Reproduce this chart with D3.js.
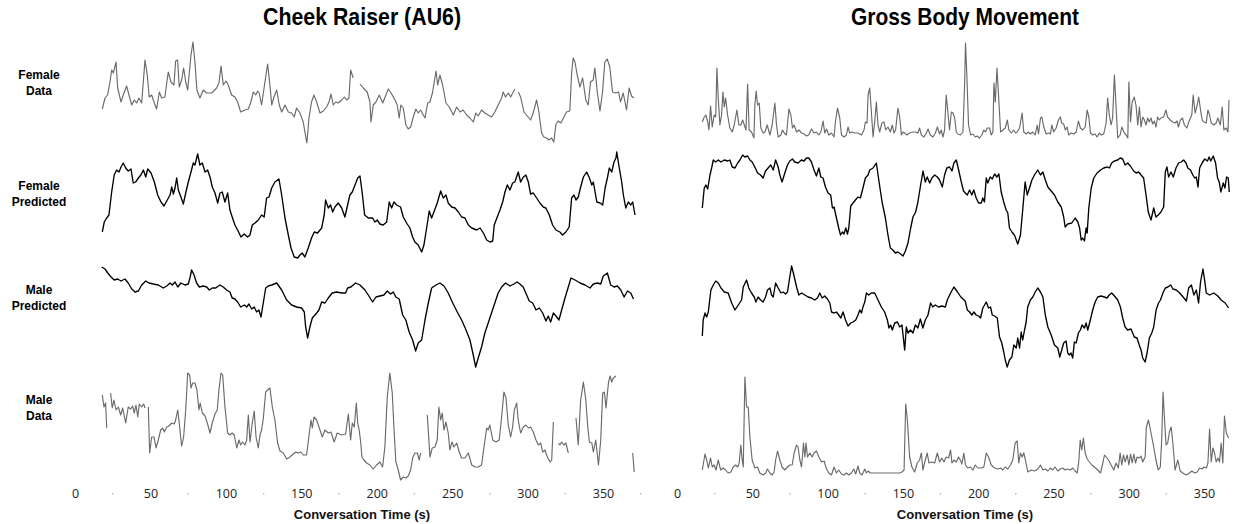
<!DOCTYPE html>
<html><head><meta charset="utf-8">
<script src="https://cdn.jsdelivr.net/npm/d3@7"></script>
<style>body{margin:0;background:#fff}</style>
</head><body><svg id="c" width="1233" height="524"></svg>
<script>
const panelTitles = ["Cheek Raiser (AU6)", "Gross Body Movement"];
const rowLabels = [["Female","Data"],["Female","Predicted"],["Male","Predicted"],["Male","Data"]];
const tickValues = [0,50,100,150,200,250,300,350];
const minorTicks = [25,75,125,175,225,275,325,375];
const xAxisTitle = "Conversation Time (s)";

// [time (s), normalized value]; null = missing
const au6FemaleData = [[18.1,39],[19.9,50],[21.6,53],[23.2,66],[24.3,78],[25.4,75],[27.2,86],[28.3,60],[30.5,46],[32,53],[34.2,62],[35.8,53],[37.6,43],[39.3,48],[40.9,45],[42.4,50],[44.2,45],[46.4,88],[47.9,73],[49.2,51],[50.8,53],[52.6,45],[54.1,39],[55.9,56],[57.4,50],[59.6,51],[61.8,76],[63.6,66],[65.6,63],[66.7,87],[68,88],[69.1,61],[70.7,68],[72,80],[73.4,66],[74.7,58],[76.9,93],[78.2,106],[79.5,86],[80.8,58],[82.8,50],[85,58],[87.3,55],[90.6,55],[93.9,60],[95.4,65],[96.8,82],[98.3,63],[100.1,67],[101.6,63],[103.8,53],[106,51],[107.8,46],[109.8,36],[112.7,38],[114.9,39],[116.6,46],[118.2,56],[119.8,53],[121.1,57],[122.1,55],[123.7,43],[125.9,66],[127.7,84],[129.2,63],[130.4,43],[131.9,51],[133.7,58],[135.4,43],[137,36],[139.2,43],[141.4,36],[143.6,35],[145.3,31],[146.9,40],[149.1,35],[151.3,26],[152.4,16],[153.7,5],[155.1,30],[156.8,46],[158.4,53],[160.2,46],[162.4,35],[164.6,37],[166.8,41],[168.4,46],[169.7,54],[171.2,43],[172.8,46],[174.5,45],[176.8,48],[178.5,51],[180.1,48],[181.6,50],[182.7,78],[184.4,70],[186.5,null],[188.9,64],[191.1,60],[193.7,56],[195.5,46],[196.2,26],[197.7,43],[199.5,46],[201.7,53],[204,45],[206.1,53],[207.7,59],[209.9,54],[212.1,48],[213.6,43],[214.9,30],[216,43],[217.6,40],[219.3,23],[220.9,19],[222.5,21],[224.2,31],[226,39],[227.5,35],[229.1,38],[230.9,33],[232,30],[233.8,45],[235.3,46],[237.1,56],[237.9,64],[239.3,77],[240.4,63],[241.9,73],[243.7,63],[245.9,45],[248.1,41],[250.8,33],[253,41],[255.2,36],[257.3,38],[259.6,33],[261.8,30],[264,26],[265.7,35],[267.3,32],[269.5,38],[271.7,35],[273.9,33],[276.1,31],[278.3,36],[280.5,43],[282.8,50],[283.8,56],[285.4,51],[287.2,55],[288.8,51],[290.5,56],[291.6,59],[292.7,null],[293.8,56],[295.4,51],[297.6,36],[300.4,31],[302,28],[303.7,35],[306,48],[307.5,36],[309.3,15],[310.8,11],[312.6,10],[314.1,8],[315.9,10],[317.4,6],[318.8,24],[320.3,27],[322.1,25],[324.1,31],[325.8,36],[328,37],[329.2,75],[330.2,90],[331.4,86],[332.9,73],[334.7,61],[336.5,70],[338.6,48],[340.2,43],[341.7,66],[343.5,68],[344.6,80],[346.2,56],[348,37],[349.7,56],[351.2,86],[352.8,89],[354.5,81],[356.3,56],[358.5,55],[360.3,56],[361.6,46],[363.4,55],[365.6,38],[367.3,60],[368.9,52],[370.5,50]];

const au6FemalePred = [[18.1,29],[19.4,39],[21,43],[22.5,46],[24.3,69],[26,86],[27.6,91],[29.2,89],[30.5,94],[32,98],[33.6,93],[35.3,90],[37.1,92],[38.6,78],[40.2,79],[42,83],[43.7,86],[45.3,91],[46.9,84],[48.2,92],[50.4,88],[52.6,79],[54.8,66],[57,59],[59,55],[60.8,60],[63,66],[64.1,74],[65.2,67],[66.3,73],[67.4,83],[68.5,71],[70.2,64],[71.8,57],[73.4,68],[75.1,79],[76.9,89],[78.4,98],[79.5,96],[81.3,107],[82.8,96],[84.4,98],[86.2,89],[87.9,91],[89.5,84],[91,74],[92.8,68],[94.6,58],[96.1,68],[97.6,69],[99.4,59],[101.2,68],[102.7,51],[104.2,44],[106,36],[107.8,31],[110,24],[112.2,27],[114.4,24],[116,26],[117.5,36],[119.3,38],[121.5,41],[123.7,46],[125.4,44],[127,63],[128.6,64],[130.4,73],[132.5,79],[135.2,82],[137,66],[139.2,43],[141.4,26],[143.2,13],[145.3,4],[147.6,3],[149.1,6],[150.6,8],[152.4,4],[154.6,13],[156.8,23],[158.6,29],[160.8,28],[163.5,33],[165.2,46],[166.1,61],[167.9,53],[169.4,56],[170.8,49],[172.3,54],[174.5,58],[176.8,53],[178.9,44],[180.7,56],[182.2,66],[183.8,69],[185.6,76],[187.4,83],[188.9,85],[190.4,68],[192,46],[194.4,43],[197.3,43],[198.8,39],[200.3,41],[202.1,37],[204.3,36],[206.6,39],[208.3,59],[209.9,53],[211.4,59],[213.2,56],[215.8,54],[217.6,44],[219.8,38],[222,33],[223.8,24],[225.3,19],[227.5,16],[229.8,9],[231.3,16],[233.1,33],[234.8,50],[236.4,43],[237.9,49],[240.1,58],[242.4,70],[244.1,63],[245.9,66],[247.4,58],[249.7,54],[251.9,53],[254.1,49],[256.3,44],[258.5,43],[260.7,36],[263,33],[266.3,31],[268.5,33],[270.7,28],[272.9,21],[275.1,19],[276.9,20],[277.9,36],[279.9,44],[281.7,51],[283.5,59],[285,69],[286.6,76],[288.3,71],[290.1,78],[291.6,79],[293.8,89],[295.4,79],[297.2,84],[298.9,86],[300.5,79],[302,67],[303.8,68],[306,63],[308.2,58],[310.4,54],[312.1,53],[314.4,46],[316.6,36],[318.8,31],[321.4,29],[323.2,26],[325.4,29],[327.6,34],[329.2,63],[330.8,66],[332.1,61],[333.6,64],[335.2,74],[337,84],[339.2,89],[341,83],[342.6,76],[343.6,79],[345.9,59],[348.1,58],[349.8,56],[351.4,73],[352.9,83],[354.2,93],[355.8,89],[357.3,99],[358.6,103],[359.1,109],[360.8,93],[362.4,79],[363.5,66],[365.1,53],[366.8,59],[368.4,56],[369.7,59],[371.2,46]];

const au6MalePred = [[17.7,104],[19.9,102],[21.7,98],[23.9,94],[26,91],[28.3,92],[30.5,90],[33.1,92],[35.3,88],[37.6,82],[39.8,79],[42,80],[44.2,86],[46.9,90],[49,88],[51.9,87],[55.2,86],[58.5,83],[60.8,85],[63,88],[64.5,86],[66.3,89],[68.1,84],[70.2,88],[72.9,86],[75.1,87],[76.2,93],[77.3,101],[78.9,96],[80.6,88],[82.4,84],[85,85],[87.3,84],[89,81],[91,83],[93.3,83],[96.1,86],[98.3,84],[100.5,81],[102.7,79],[104.2,73],[106,72],[107.8,69],[109.8,64],[112.2,66],[113.8,64],[115.3,67],[117.1,62],[118.8,64],[120.4,59],[121.9,61],[123.3,54],[124.8,68],[126.4,83],[128.1,85],[130.4,86],[133.7,88],[137,81],[140.3,71],[143.6,66],[146.9,64],[150.2,63],[152,59],[152.9,44],[154.2,33],[155.7,44],[157.3,53],[160.2,58],[161.7,61],[163.5,69],[165.7,68],[167.9,73],[170.5,78],[173.4,79],[176.8,78],[179.4,78],[180.7,83],[182.9,84],[186,88],[188.9,86],[192.2,81],[194.4,76],[197.3,69],[199.5,74],[202.1,75],[204.8,76],[207,80],[209.2,77],[211,79],[212.7,74],[214.9,72],[217.2,56],[219.3,51],[221.5,39],[223.8,31],[225.8,20],[227.5,28],[229.8,31],[232,51],[234.2,68],[236.4,83],[239.3,86],[241.9,88],[244.6,85],[247.4,78],[250.4,68],[253.4,59],[256.3,51],[259.2,41],[261.8,31],[264,16],[265.6,4],[267.3,13],[269.5,24],[271.7,38],[273.9,48],[276.1,58],[278.3,68],[280.5,78],[282.8,84],[285.4,88],[288.3,85],[290.9,87],[293.1,89],[294.9,87],[297.1,84],[299.4,76],[301.1,70],[303.4,68],[305.6,61],[307.8,63],[310,58],[312.2,50],[313.7,55],[315.3,49],[317.1,58],[318.8,55],[320.8,51],[322.6,61],[324.8,73],[327,84],[328.8,93],[331.5,91],[334.8,88],[338.1,86],[341.4,83],[343.6,87],[346.3,88],[348.5,87],[350.2,95],[352.9,98],[355.1,86],[357.3,84],[359.5,85],[361.8,81],[364,74],[366.2,80],[368.4,78],[370.2,72]];

const au6MaleData = [[18.1,89],[19.2,77],[20.3,81],[21,56],[22.3,null],[23.6,91],[24.7,76],[25.8,84],[27.2,74],[28.7,77],[30.3,69],[31.6,76],[33.6,61],[35.3,77],[36.9,75],[38.2,78],[39.3,71],[40.4,79],[41.6,67],[42.6,80],[44.2,77],[45.5,80],[46.4,76],[47.4,null],[48.6,77],[49.5,31],[50.8,47],[52.4,47],[53.7,36],[55.2,44],[56.8,54],[58.1,56],[59.2,52],[60.8,57],[62.3,58],[64.1,61],[65.8,60],[66.7,64],[68.1,74],[69.1,61],[70.7,38],[72,47],[73.4,74],[74.7,111],[76,109],[76.9,96],[78,101],[79.5,101],[80.8,94],[82.2,74],[83,81],[84.4,71],[86.2,68],[87.7,61],[89.5,51],[91,61],[92.8,70],[94.3,74],[95.4,94],[96.8,111],[97.9,109],[99.4,77],[101.2,51],[102.7,49],[104.2,51],[105.6,49],[107.2,36],[108.7,44],[109.8,39],[111.1,42],[112.7,39],[113.8,44],[114.9,69],[116,42],[117.5,61],[118.8,73],[120,47],[121.5,36],[122.6,49],[123.7,54],[124.8,65],[126.4,92],[127.7,94],[129.2,96],[130.8,77],[132.5,64],[134.3,41],[135.9,33],[138.1,31],[140.3,25],[142.5,27],[144.7,30],[146.3,32],[148,31],[149.8,32],[151.3,29],[153.5,29],[154.6,42],[156.4,64],[157.3,56],[158.4,67],[160.2,64],[162.4,54],[163.9,47],[165.7,54],[167.9,51],[169.7,52],[171.8,42],[173.8,51],[176.8,49],[179.4,50],[181.2,70],[182.7,44],[183.8,61],[185.1,57],[186.5,81],[187.4,61],[188.4,54],[189.5,40],[190.2,27],[191.5,24],[193.3,21],[195.5,19],[197.7,15],[199.9,19],[202.1,22],[203.9,17],[205.4,37],[207,87],[208.7,111],[210.3,91],[211.6,51],[212.7,22],[214.3,14],[215.8,4],[217.6,7],[219.3,6],[220.9,8],[222.5,14],[223.8,26],[225.3,31],[226.9,31],[228.2,24],[229.1,31],[231,null],[233.5,69],[235.3,27],[236.8,36],[238.6,37],[240.1,44],[241.2,77],[242.4,64],[243.4,71],[244.6,54],[245.9,62],[247.4,51],[248.5,34],[249.9,42],[251.2,37],[253,41],[254.7,32],[256.3,26],[258.5,26],[260.7,31],[263,19],[265.1,17],[267.3,17],[269.5,19],[271.1,37],[272.9,56],[273.9,54],[275,59],[276.9,44],[279,42],[281.2,44],[282.8,67],[284.3,92],[285.7,86],[287.2,59],[288.8,47],[290.1,57],[291.2,74],[292.8,81],[293.8,64],[295.4,51],[297.2,57],[298.9,59],[300.5,56],[302,57],[303.8,52],[305.6,44],[307.1,39],[308.7,41],[310,32],[311.5,34],[313.1,27],[314.9,22],[316,24],[317.1,62],[318.5,null],[320.4,41],[321.4,39],[322.6,42],[324.1,39],[325.4,41],[327,31],[329.5,null],[332.1,66],[333.6,39],[335.2,84],[337,102],[338.6,84],[339.9,57],[341,42],[342.6,41],[343.6,32],[345.2,44],[347,19],[348.5,44],[349.8,91],[350.9,92],[352,76],[353.6,101],[354.7,108],[355.8,102],[356.9,106],[358.5,108],[364,null],[369.7,31],[370.7,12]];

const gbmFemaleData = [[16.8,26],[18.1,31],[19.2,33],[20.4,26],[21.2,18],[22.3,42],[23.4,21],[24.7,33],[25.7,31],[26.5,80],[27.4,50],[28.5,23],[29.6,33],[30.5,56],[31.4,41],[32.3,50],[33.6,33],[35.1,20],[36.7,16],[38,23],[39.8,38],[41.1,23],[42.4,23],[43.6,28],[44.7,23],[45.8,18],[46.9,64],[47.9,18],[49.5,16],[51.1,10],[51.7,43],[52.6,57],[53.5,43],[54.6,45],[55.7,20],[57.2,15],[58.4,16],[59.9,23],[61.7,13],[63.2,23],[65,45],[66.1,23],[67.2,11],[69,13],[70.1,18],[71.2,15],[72.7,13],[74.3,39],[75.6,33],[76.7,20],[77.8,23],[79.4,16],[80.9,18],[82.7,15],[84.4,14],[86,12],[87.5,13],[89.3,19],[91,15],[92.6,16],[94.2,13],[95.5,16],[97,27],[98.1,15],[99.3,19],[100.8,13],[102.6,15],[104.3,11],[105.2,26],[106.6,40],[108.1,30],[109.2,13],[110.9,11],[112.5,13],[113.6,21],[114.7,15],[116.2,16],[118,15],[120.2,15],[122.5,13],[124.2,18],[125.1,26],[126.2,25],[126.9,53],[128,60],[129.1,36],[130.2,11],[131.3,26],[132.4,46],[133.5,23],[134.6,16],[136.1,25],[137.5,26],[138.6,18],[140.1,21],[141.7,16],[143,23],[144.1,15],[145.2,18],[146.7,40],[147.9,31],[149,13],[150.1,16],[151.2,15],[152.7,13],[154.5,15],[156.7,16],[158.3,16],[160,15],[161.1,20],[162.3,13],[164,11],[165.6,15],[166.7,19],[168.2,13],[170,11],[171.6,15],[172.9,21],[174.4,14],[175.5,18],[176.6,11],[177.7,18],[178.8,53],[179.9,36],[181,18],[182.2,36],[183.3,35],[184.4,30],[185.5,16],[186.6,14],[188.3,13],[189.9,16],[191,63],[191.6,105],[192.5,73],[193.6,23],[195,13],[196.5,14],[198.1,11],[199.4,12],[200.9,10],[202.5,13],[203.8,18],[204.9,16],[206,20],[207.6,20],[208.7,13],[209.8,16],[210.5,65],[211.4,46],[212.5,80],[213.8,46],[214.9,16],[216.4,18],[218,20],[219.4,28],[220.4,18],[222,15],[223.5,18],[224.8,15],[225.9,16],[227.5,20],[229.2,35],[230.3,16],[231.9,14],[233.4,16],[234.7,14],[236.3,16],[237.9,13],[239.2,23],[240.1,14],[241.4,30],[242.3,31],[243.6,21],[245.2,14],[246.7,15],[248,14],[248.9,23],[250.2,16],[251.8,20],[253.3,28],[254.6,31],[255.5,25],[256.8,24],[257.9,18],[259.1,21],[260.1,13],[261.7,15],[263.5,14],[265.1,16],[266.6,27],[267.9,20],[269.5,18],[271.1,21],[272.4,38],[273.5,31],[274.6,15],[276.1,13],[277.7,14],[279,11],[280.5,15],[281.7,13],[283.4,14],[285,25],[286,50],[287.1,33],[288.3,23],[289.3,30],[290.5,73],[291.6,41],[292.7,10],[294.3,13],[295.4,21],[297.1,15],[298.3,13],[299.4,10],[300.1,66],[301.2,26],[302.3,46],[303.7,51],[304.9,42],[306,23],[307.1,41],[308.2,21],[309.3,31],[310.4,28],[311.5,23],[312.6,30],[313.7,26],[314.8,30],[315.9,24],[317,27],[318.1,21],[319.2,31],[320.3,28],[321.4,30],[323.2,31],[324.7,38],[325.8,31],[327.6,28],[329.2,26],[330.8,25],[332.1,27],[333,21],[334.4,28],[335.7,30],[337,23],[338.6,20],[340.4,28],[341.9,33],[342.8,53],[344.1,35],[345.5,43],[346.5,51],[347.7,38],[348.8,28],[349.9,26],[351.5,25],[352.6,38],[353.7,33],[354.8,25],[356.5,23],[358.1,25],[359.2,30],[360.8,23],[362.1,41],[363.2,18],[364.8,20],[365.9,16],[366.6,48]];

const gbmFemalePred = [[16.8,53],[18.1,73],[19.2,76],[20.4,72],[21.9,86],[23,93],[24.1,101],[25.7,99],[27.4,101],[29.2,99],[31.4,101],[33.6,100],[35.1,101],[36.7,94],[38.5,93],[40.3,98],[41.8,101],[43.6,106],[45.1,104],[46.9,105],[48.4,101],[49.9,99],[51.7,94],[53.5,88],[55.5,86],[57.2,83],[58.8,90],[60.5,93],[62.3,96],[63.9,91],[65.5,101],[67.2,94],[68.3,86],[69.8,79],[71.6,88],[73.4,96],[74.9,100],[76.7,102],[78.2,99],[80.4,98],[82.7,101],[84.4,100],[86,103],[87.5,103],[89.3,99],[91,91],[92.6,85],[94.2,93],[95.5,84],[97,83],[98.6,74],[100.3,68],[102.1,66],[103.2,53],[104.3,54],[105.9,43],[107.4,33],[108.6,26],[109.9,29],[110.9,27],[112.1,33],[113.2,27],[114.1,33],[115.4,55],[116.9,58],[118.5,61],[120.2,64],[121.8,63],[123.5,73],[125.1,83],[126.9,86],[128,91],[130.2,93],[132.4,98],[134.2,79],[136.2,59],[138.4,43],[140.1,26],[141.7,13],[143.4,11],[145,8],[146.7,9],[148.5,7],[150.1,5],[151.7,10],[153.4,18],[155.2,33],[156.7,44],[158.5,49],[160,59],[161.8,76],[163.4,90],[164.9,79],[166.2,84],[167.8,78],[169.3,83],[171.1,86],[172.9,84],[174.4,81],[176.2,74],[177.7,86],[179.2,93],[181,94],[182.6,90],[183.9,98],[185.5,101],[187.2,90],[188.8,79],[190.3,70],[191.5,68],[192.8,66],[194.3,71],[195.8,66],[197.1,71],[198.7,63],[200.3,58],[202.1,58],[203.1,63],[204.2,59],[205.4,83],[206.4,78],[208,84],[209.4,82],[210.9,87],[212.4,84],[213.8,87],[215.3,69],[217,59],[218.6,51],[219.7,48],[220.8,33],[222.4,29],[224.1,26],[226.3,17],[228.1,26],[229.6,51],[231.2,79],[232.6,66],[234.1,73],[235.7,81],[237.4,86],[239.6,91],[241.4,86],[243,89],[244.6,81],[246.3,74],[248.5,70],[250.7,66],[252.9,59],[255.2,54],[256.8,44],[257.8,34],[259.5,37],[262.2,38],[264.4,43],[266.2,39],[267.4,33],[268.4,21],[269.4,23],[270.6,20],[271.7,33],[272.4,28],[273.5,53],[275.1,73],[276.8,83],[279,88],[281.3,91],[283.4,93],[285.7,94],[287.2,93],[288.7,98],[290.5,100],[292.7,101],[294.3,103],[296,102],[297.6,96],[299.3,98],[301.1,95],[303.3,90],[304.9,88],[306.6,89],[308.2,86],[309.9,83],[311.5,66],[313,49],[314.8,41],[316.6,53],[318.1,44],[319.6,46],[321.4,49],[323.2,54],[324.3,89],[325.4,94],[326.5,84],[328.1,89],[329.6,84],[331.4,93],[333.2,98],[334.8,99],[336.5,101],[338.1,98],[339.2,93],[341,91],[342.6,86],[343.8,83],[344.9,84],[346,74],[347.1,93],[348.7,98],[350.5,102],[352.3,100],[353.4,104],[354.5,100],[356.1,105],[357.7,98],[359,83],[360.1,79],[361.2,69],[362.8,78],[363.9,73],[365,84],[366.1,83],[366.8,69]];

const gbmMalePred = [[16.8,35],[17.4,51],[18.6,58],[19.7,54],[20.8,59],[22.5,81],[24.1,86],[25.7,90],[27.4,88],[29.2,83],[31.4,79],[34,78],[36.3,68],[38.5,61],[40.7,66],[42.9,71],[44,84],[46.2,91],[47.7,83],[49.5,78],[51.3,74],[52.4,69],[53.9,74],[55.5,71],[57.2,69],[58.8,74],[60.1,81],[61.7,83],[62.8,76],[63.9,74],[65.5,88],[67.2,83],[69,78],[70.5,79],[72.1,77],[73.4,79],[74.9,94],[76.1,105],[77.6,96],[79.4,84],[80.9,76],[82.7,78],[84.9,76],[87.1,74],[89.3,73],[91.5,71],[93.3,73],[94.8,78],[96.4,73],[98.1,75],[99.9,72],[101.5,68],[102.6,59],[104.3,58],[105.9,59],[107.4,56],[108.8,53],[110.3,59],[111.9,51],[113.6,45],[115.4,48],[116.9,49],[118.7,51],[120.2,56],[121.4,61],[122.5,58],[123.5,64],[124.7,69],[125.8,78],[127.3,76],[129.1,78],[131.3,78],[133.5,71],[135.7,64],[137.9,59],[139.7,51],[140.8,43],[141.9,46],[143,41],[144.6,48],[146.4,49],[147.9,44],[149.4,46],[151.2,21],[152.3,44],[153.4,38],[155,41],[156.7,38],[158.3,46],[160,43],[161.6,52],[163.3,43],[164.9,51],[166.7,56],[168.4,68],[169.9,64],[171.6,66],[173.7,64],[175.9,65],[178.2,64],[179.5,71],[181.7,78],[183.9,84],[186.3,79],[188.5,74],[191.4,70],[192.8,61],[194.3,59],[195.8,56],[197.2,59],[198.7,56],[200.3,55],[201.6,53],[203.1,63],[205.4,69],[206.9,63],[208.2,64],[209.4,56],[210.9,55],[212.7,53],[214.2,34],[215.7,28],[217,19],[218,11],[219.3,4],[220.8,11],[222.4,14],[223.7,26],[225.3,23],[226.3,33],[227.5,23],[228.6,39],[229.6,31],[230.8,41],[231.9,49],[232.9,64],[234.7,71],[236.3,74],[237.9,79],[239.6,83],[241.4,79],[243,74],[244.6,56],[246.3,44],[248.5,36],[250.7,26],[252.9,23],[254.2,14],[255.5,21],[256.8,28],[258.4,30],[259.5,18],[260.6,16],[261.7,18],[262.8,13],[263.9,29],[265.1,28],[266.6,38],[267.9,41],[269,46],[270.6,43],[271.7,48],[272.8,41],[274.5,51],[276.1,61],[277.7,69],[279.4,74],[281.7,75],[283.8,74],[285.6,73],[287.1,76],[288.7,78],[290.5,75],[292.7,71],[294.5,64],[296,53],[297.6,44],[299.3,41],[301.5,42],[303.7,34],[305.5,33],[307,26],[308.2,21],[309.3,13],[310.9,9],[312.2,18],[313.7,33],[315.3,38],[316.6,44],[318.2,61],[319.8,68],[321.1,71],[322.7,78],[324.3,83],[326,84],[327.9,86],[329.4,82],[331.6,81],[333.8,78],[336.1,74],[338.3,70],[339.8,83],[341.6,86],[343.3,76],[344.9,81],[346.4,68],[347.7,89],[349.3,102],[350.4,91],[351.5,78],[353.7,76],[356.5,78],[359.2,75],[361.4,71],[364.1,68],[366.3,63]];

const gbmMaleData = [[16.8,14],[18.6,30],[19.7,24],[20.8,16],[22.3,26],[23.4,17],[24.7,19],[25.9,14],[27.4,24],[29,14],[30.7,16],[32.3,14],[34,11],[35.8,12],[37.3,17],[38.9,19],[40.3,17],[41.3,21],[42.4,39],[43.3,24],[44,17],[45.1,107],[46.2,77],[47.3,77],[48.4,47],[49.9,24],[51.7,16],[53.5,17],[55,11],[57.2,9],[58.8,11],[60.1,15],[61.7,11],[63.2,9],[64.5,12],[65.5,24],[66.8,33],[68.3,24],[69.8,17],[71.6,14],[73.4,17],[74.9,19],[76.5,19],[77.8,31],[79.4,39],[80.4,37],[81.6,24],[82.7,17],[84,41],[84.9,27],[85.7,41],[86.7,27],[88.2,31],[89.7,27],[91,31],[92.6,33],[94.2,27],[96,22],[97.7,23],[99.3,15],[100.8,11],[102.6,9],[104.3,17],[105.9,11],[107.4,14],[109.2,10],[110.9,9],[112.5,11],[114.1,9],[115.8,11],[117.4,15],[118.7,10],[120.2,18],[121.4,11],[122.9,9],[124.7,15],[125.8,11],[126.9,13],[128.4,11],[130.2,11],[132.4,11],[134.6,11],[136.8,11],[139.1,11],[141.2,11],[143.4,11],[145.7,11],[147.9,11],[149.4,12],[150.8,14],[151.9,80],[153,64],[154.5,27],[156,17],[157.8,12],[159.6,21],[161.1,24],[162.3,31],[163.3,14],[164.9,24],[166.2,31],[167.3,21],[168.9,22],[171.1,21],[172.9,31],[174.4,22],[175.9,26],[177.3,22],[178.8,27],[180.4,26],[181.7,34],[182.6,21],[183.9,24],[185.5,22],[187,27],[188.8,22],[189.2,20],[190.5,31],[191.6,19],[193.2,16],[195,17],[196.5,14],[198.1,19],[199.8,16],[202.1,16],[203.8,17],[205.4,31],[206.9,27],[208.7,19],[210.9,16],[213.1,15],[214.9,16],[216.4,14],[218,17],[219.7,15],[221.5,19],[223,24],[224.6,41],[225.9,43],[227,21],[228.1,31],[229.2,27],[230.3,31],[231.4,24],[233,12],[235.2,14],[237.4,13],[239.6,15],[241.4,19],[243,14],[244.6,15],[246.3,13],[248,16],[249.6,14],[251.1,17],[252.9,13],[254.6,15],[256.2,16],[257.8,14],[259.5,15],[261.3,14],[262.8,16],[264.4,13],[265.8,11],[266.8,22],[267.8,44],[268.8,34],[269.9,46],[271.1,31],[272.4,25],[273.9,22],[275.5,19],[277.2,17],[279.4,14],[281.3,11],[282.8,21],[283.9,29],[285,27],[286.6,24],[288.3,19],[290.1,14],[291.6,21],[293.1,16],[294.3,31],[295.4,19],[296.5,29],[297.6,22],[299,29],[300.1,19],[301.2,30],[302.3,21],[303.4,30],[304.5,21],[305.6,27],[307.1,26],[308.2,28],[309.3,22],[310.9,27],[311.7,57],[313.1,64],[314.8,51],[316.6,37],[318.1,24],[319.6,14],[321,17],[321.9,44],[322.8,92],[323.7,67],[324.8,39],[325.9,41],[327,52],[328.2,57],[329.3,41],[330.8,14],[332.6,24],[334.2,13],[335.9,11],[338.2,9],[340.4,11],[341.9,13],[343.8,11],[345.5,12],[347.1,16],[348.7,15],[350,17],[351.6,16],[352.6,21],[353.7,55],[354.8,22],[355.9,36],[357,31],[358.1,22],[359.2,26],[360.3,22],[361.4,41],[362.5,21],[363.6,68],[364.8,51],[366.3,46]];

const svg = d3.select("#c");
const rowBase = [148, 261, 371, 484];
const rowH = 110;
const isData = [true, false, false, true];

const panels = [
  {title: panelTitles[0], cx: 362, tw: 198, x: d3.scaleLinear().domain([0,350]).range([75,603]),
   series: [au6FemaleData, au6FemalePred, au6MalePred, au6MaleData]},
  {title: panelTitles[1], cx: 965, tw: 228, x: d3.scaleLinear().domain([0,350]).range([677,1204]),
   series: [gbmFemaleData, gbmFemalePred, gbmMalePred, gbmMaleData]}
];

panels.forEach(p => {
  svg.append("text").attr("x", p.cx).attr("y", 25).attr("text-anchor","middle")
    .attr("font-family","'Liberation Sans',Arial,sans-serif")
    .attr("font-weight","bold").attr("font-size",24).attr("fill","#000")
    .attr("textLength", p.tw).attr("lengthAdjust","spacingAndGlyphs").text(p.title);

  p.series.forEach((s, i) => {
    const y = d3.scaleLinear().domain([0, rowH]).range([rowBase[i], rowBase[i]-rowH]);
    const line = d3.line().defined(d => d[1] != null).x(d => p.x(d[0])).y(d => y(d[1]));
    svg.append("path").datum(s).attr("d", line).attr("fill","none")
      .attr("stroke", isData[i] ? "#6a6a6a" : "#000")
      .attr("stroke-width", isData[i] ? 1.15 : 1.35)
      .attr("stroke-linejoin","round");
  });

  const ax = svg.append("g").attr("transform","translate(0,487)")
    .call(d3.axisBottom(p.x).tickValues(tickValues).tickSize(0).tickPadding(2));
  ax.select(".domain").remove();
  ax.selectAll("text").attr("font-family","'Open Sans','Noto Sans',sans-serif")
    .attr("font-size",12.5).attr("fill","#222");

  svg.append("g").selectAll("rect").data(minorTicks.filter(t => p.x(t) < 1233)).join("rect")
    .attr("x", d => p.x(d)-0.75).attr("y", 493).attr("width",1.5).attr("height",1.5).attr("fill","#bbb");

  svg.append("text").attr("x", p.cx).attr("y", 519).attr("text-anchor","middle")
    .attr("font-family","'Liberation Sans',Arial,sans-serif").attr("font-weight","bold")
    .attr("font-size",13).attr("fill","#111").text(xAxisTitle);
});

const labelY = [75, 186, 290, 400];
rowLabels.forEach((lab, i) => {
  const t = svg.append("text").attr("x", 39).attr("y", labelY[i]).attr("text-anchor","middle")
    .attr("font-family","'Liberation Sans',Arial,sans-serif").attr("font-weight","bold")
    .attr("font-size",12).attr("fill","#000");
  lab.forEach((w, j) => t.append("tspan").attr("x",39).attr("dy", j === 0 ? "0.35em" : "16").text(w));
});
</script></body></html>
